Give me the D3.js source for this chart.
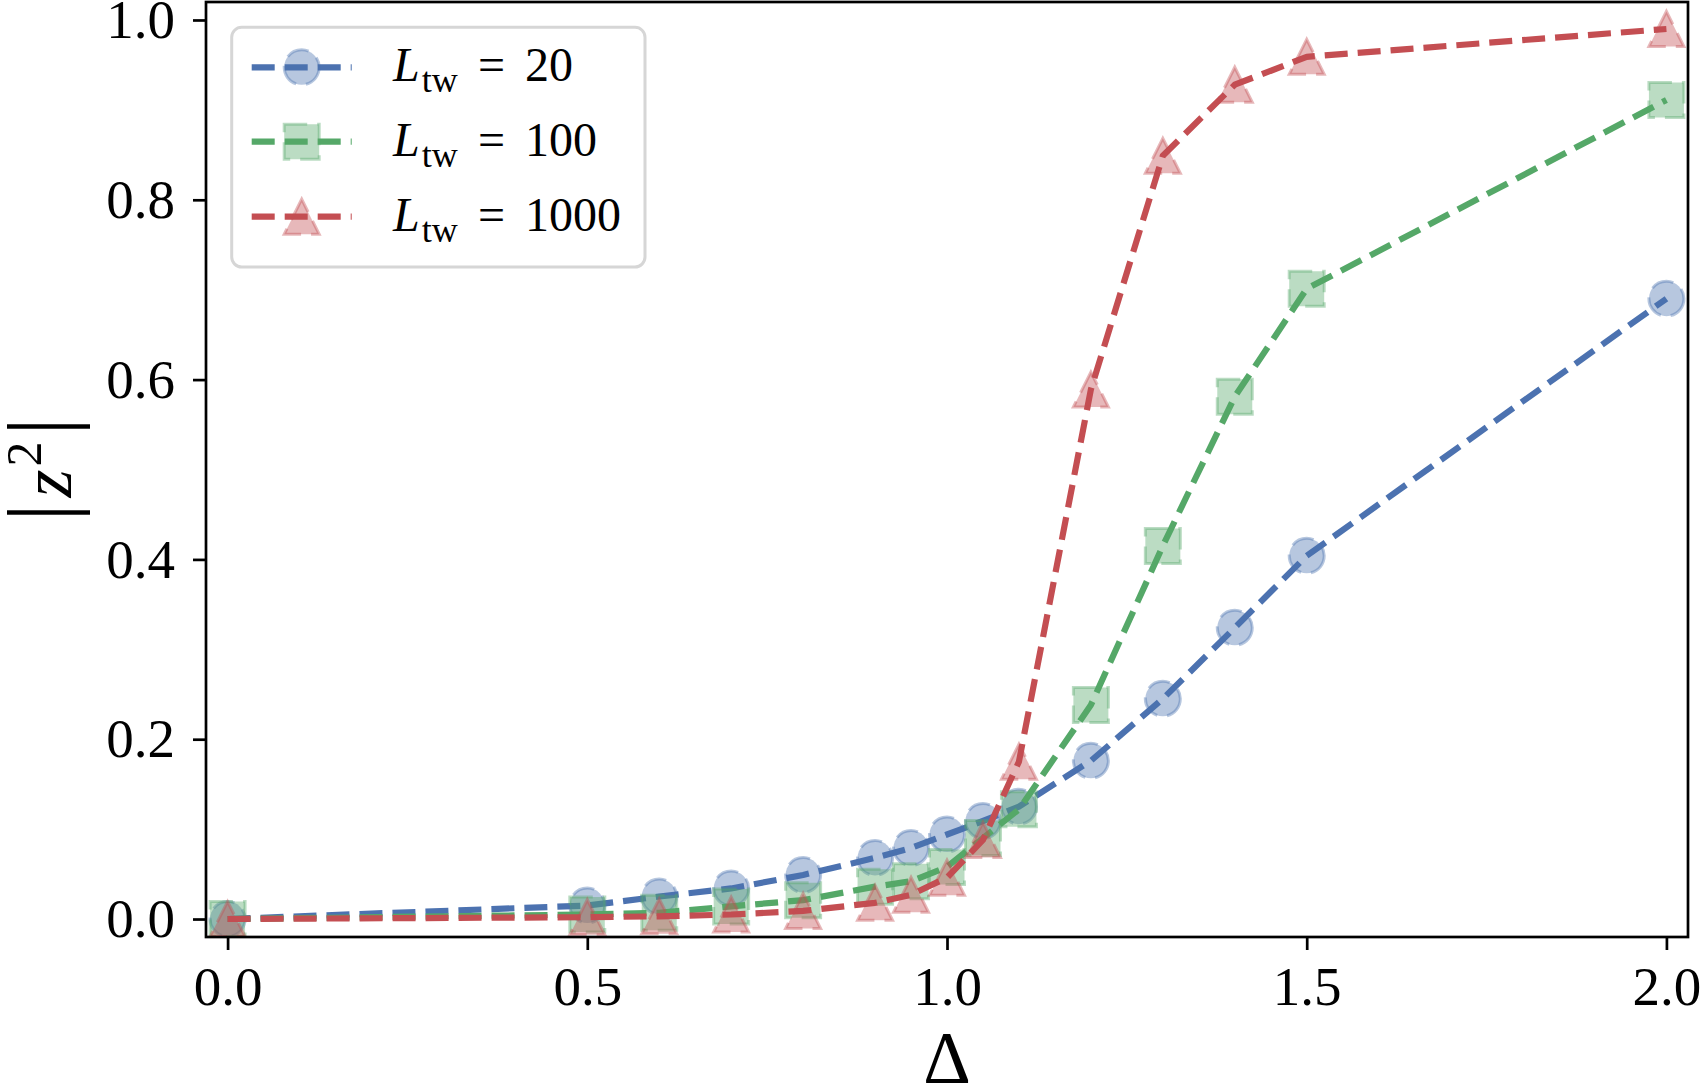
<!DOCTYPE html>
<html>
<head>
<meta charset="utf-8">
<script src="https://cdn.jsdelivr.net/npm/d3@7"></script>
<style>
  html, body { margin: 0; padding: 0; background: #ffffff; }
  svg { display: block; }
</style>
</head>
<body>
<svg id="chart" width="1702" height="1088"></svg>
<script>
// ---------------- data ----------------
const deltas = [0, 0.5, 0.6, 0.7, 0.8, 0.9, 0.95, 1.0, 1.05, 1.1, 1.2, 1.3, 1.4, 1.5, 2.0];
const seriesLabels = ["20", "100", "1000"];
const valuesL20   = [0.000, 0.015, 0.025, 0.034, 0.049, 0.068, 0.079, 0.094, 0.109, 0.125, 0.176, 0.245, 0.324, 0.404, 0.690];
const valuesL100  = [0.000, 0.005, 0.007, 0.014, 0.021, 0.036, 0.042, 0.058, 0.090, 0.122, 0.238, 0.415, 0.581, 0.701, 0.911];
const valuesL1000 = [0.000, 0.002, 0.003, 0.005, 0.009, 0.018, 0.027, 0.046, 0.088, 0.175, 0.589, 0.849, 0.928, 0.959, 0.990];
const xTicks = [0, 0.5, 1.0, 1.5, 2.0];
const yTicks = [0, 0.2, 0.4, 0.6, 0.8, 1.0];

// ---------------- styling ----------------
const colors = ["#4C72B0", "#55A868", "#C44E52"];
const markers = ["circle", "square", "triangle"];
const series = [valuesL20, valuesL100, valuesL1000];

const plot = { left: 206, right: 1688, top: 2, bottom: 937 };
const svg = d3.select("#chart");

const x = d3.scaleLinear().domain([-0.03, 2.03]).range([plot.left, plot.right]);
const y = d3.scaleLinear().domain([-0.02, 1.02]).range([plot.bottom, plot.top]);

const serifFont = "'Liberation Serif'";
const ms = 35;          // marker size
const lw = 6.2;         // line width
const dash = "23 10";

function markerPath(type, s) {
  const h = s / 2;
  const p = d3.path();
  if (type === "circle") {
    p.moveTo(h, 0);
    p.arc(0, 0, h, 0, 2 * Math.PI);
    p.closePath();
  } else if (type === "square") {
    p.rect(-h, -h, s, s);
  } else {
    p.moveTo(0, -h);
    p.lineTo(-h, h);
    p.lineTo(h, h);
    p.closePath();
  }
  return p.toString();
}

// clip
svg.append("defs").append("clipPath").attr("id", "plotclip")
  .append("rect")
  .attr("x", plot.left).attr("y", plot.top)
  .attr("width", plot.right - plot.left).attr("height", plot.bottom - plot.top);

const gPlot = svg.append("g").attr("clip-path", "url(#plotclip)");

const line = d3.line().x(d => x(d[0])).y(d => y(d[1]));

series.forEach((vals, i) => {
  const pts = deltas.map((d, j) => [d, vals[j]]);
  const g = gPlot.append("g");
  g.append("path")
    .datum(pts)
    .attr("d", line)
    .attr("fill", "none")
    .attr("stroke", colors[i])
    .attr("stroke-width", lw)
    .attr("stroke-dasharray", dash)
    .attr("stroke-linecap", "butt")
    .attr("stroke-linejoin", "round");
  g.selectAll("path.mk")
    .data(pts)
    .join("path")
    .attr("class", "mk")
    .attr("d", markerPath(markers[i], ms))
    .attr("transform", d => `translate(${x(d[0])},${y(d[1])})`)
    .attr("fill", colors[i])
    .attr("fill-opacity", 0.4)
    .attr("stroke", colors[i])
    .attr("stroke-opacity", 0.4)
    .attr("stroke-width", 3)
    .attr("stroke-dasharray", dash);
});

// axes
const xAxis = d3.axisBottom(x).tickValues(xTicks).tickFormat(d3.format(".1f"))
  .tickSizeInner(13).tickSizeOuter(0).tickPadding(16);
const yAxis = d3.axisLeft(y).tickValues(yTicks).tickFormat(d3.format(".1f"))
  .tickSizeInner(13).tickSizeOuter(0).tickPadding(18);

const gx = svg.append("g").attr("transform", `translate(0,${plot.bottom})`).call(xAxis);
const gy = svg.append("g").attr("transform", `translate(${plot.left},0)`).call(yAxis);
[gx, gy].forEach(g => {
  g.attr("font-family", null).attr("font-size", null);
  g.select(".domain").remove();
  g.selectAll(".tick line").attr("stroke", "#000").attr("stroke-width", 2.7);
  g.selectAll(".tick text").attr("fill", "#000")
    .style("font-family", serifFont).style("font-size", "55px");
});

// spines
svg.append("rect")
  .attr("x", plot.left).attr("y", plot.top)
  .attr("width", plot.right - plot.left).attr("height", plot.bottom - plot.top)
  .attr("fill", "none").attr("stroke", "#000").attr("stroke-width", 2.7);

// axis labels
svg.append("text")
  .attr("x", (plot.left + plot.right) / 2).attr("y", 1083)
  .attr("text-anchor", "middle")
  .style("font-family", serifFont).style("font-size", "74px")
  .text("Δ");

const yl = svg.append("text")
  .attr("transform", `translate(71,${(plot.top + plot.bottom) / 2}) rotate(-90)`)
  .attr("text-anchor", "middle")
  .style("font-family", serifFont).style("font-size", "72px");
yl.append("tspan").style("font-size", "90px").text("|");
yl.append("tspan").attr("dx", 6).style("font-style", "italic").text("z");
yl.append("tspan").attr("dy", -30).attr("dx", 3).style("font-size", "50px").text("2");
yl.append("tspan").attr("dy", 30).attr("dx", 6).style("font-size", "90px").text("|");

// legend
const leg = svg.append("g");
leg.append("rect")
  .attr("x", 231.7).attr("y", 27.3).attr("width", 413.3).attr("height", 239.7)
  .attr("rx", 10).attr("ry", 10)
  .attr("fill", "#ffffff").attr("fill-opacity", 0.8)
  .attr("stroke", "#d6d6d6").attr("stroke-width", 3);

const rowY = [67.3, 141.7, 216.7];
seriesLabels.forEach((lab, i) => {
  const cy = rowY[i];
  leg.append("line")
    .attr("x1", 251.7).attr("x2", 351.7).attr("y1", cy).attr("y2", cy)
    .attr("stroke", colors[i]).attr("stroke-width", lw)
    .attr("stroke-dasharray", dash);
  leg.append("path")
    .attr("d", markerPath(markers[i], ms))
    .attr("transform", `translate(301.7,${cy})`)
    .attr("fill", colors[i]).attr("fill-opacity", 0.4)
    .attr("stroke", colors[i]).attr("stroke-opacity", 0.4)
    .attr("stroke-width", 3).attr("stroke-dasharray", dash);
  const t = leg.append("text")
    .attr("y", cy + 14)
    .style("font-family", serifFont).style("font-size", "48px").attr("fill", "#000");
  t.append("tspan").attr("x", 393).style("font-style", "italic").text("L");
  t.append("tspan").attr("dx", 2).attr("dy", 11).style("font-size", "36px").text("tw");
  t.append("tspan").attr("x", 478).attr("dy", -11).text("=");
  t.append("tspan").attr("x", 525).text(lab);
});
</script>
</body>
</html>
